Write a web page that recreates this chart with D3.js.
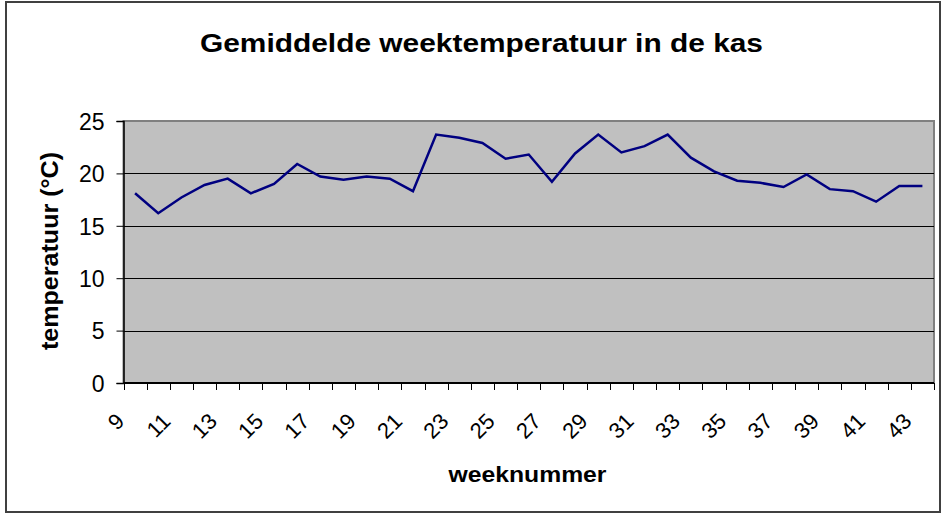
<!DOCTYPE html>
<html>
<head>
<meta charset="utf-8">
<script src="https://cdn.jsdelivr.net/npm/d3@7"></script>
<style>
  html, body { margin: 0; padding: 0; background: #fff; }
  svg { display: block; }
  text { font-family: "Liberation Sans", Arial, Helvetica, sans-serif; fill: #000; }
</style>
</head>
<body>
<svg id="chart" width="943" height="515"></svg>
<script>
// Weekly average greenhouse temperature, weeks 9 to 43
const weeks = d3.range(9, 44);
const temperatures = [
  18.1, 16.2, 17.7, 18.9, 19.5, 18.1, 19.0, 20.9, 19.7, 19.4,
  19.7, 19.5, 18.3, 23.7, 23.4, 22.9, 21.4, 21.8, 19.2, 21.9,
  23.7, 22.0, 22.6, 23.7, 21.5, 20.2, 19.3, 19.1, 18.7, 19.9,
  18.5, 18.3, 17.3, 18.8, 18.8
];
const yTicks = [0, 5, 10, 15, 20, 25];
const xTickLabels = weeks.filter(w => w % 2 === 1);

const titleText = "Gemiddelde weektemperatuur in de kas";
const xTitle = "weeknummer";
const yTitle = "temperatuur (°C)";

const svg = d3.select("#chart");

// chart area frame
svg.append("rect")
  .attr("x", 6).attr("y", 2).attr("width", 934).attr("height", 510)
  .attr("fill", "#fff").attr("stroke", "#404040").attr("stroke-width", 2);

const plot = { left: 123.5, right: 934, top: 121, bottom: 383 };

const x = d3.scaleBand().domain(weeks).range([plot.left, plot.right]).padding(0);
const y = d3.scaleLinear().domain([0, 25]).range([plot.bottom, plot.top]);

// plot background
svg.append("rect")
  .attr("x", plot.left).attr("y", plot.top)
  .attr("width", plot.right - plot.left).attr("height", plot.bottom - plot.top)
  .attr("fill", "#c0c0c0").attr("stroke", "#808080").attr("stroke-width", 2);

// horizontal gridlines
svg.append("g").selectAll("line")
  .data(yTicks.filter(v => v > 0 && v < 25))
  .join("line")
  .attr("x1", plot.left).attr("x2", plot.right)
  .attr("y1", d => Math.round(y(d)) + 0.5).attr("y2", d => Math.round(y(d)) + 0.5)
  .attr("stroke", "#000").attr("stroke-width", 1);

// y axis
const yAxis = svg.append("g")
  .attr("transform", `translate(${plot.left},0)`)
  .call(d3.axisLeft(y).tickValues(yTicks).tickSize(7).tickPadding(12).tickFormat(d3.format("d")));
yAxis.select(".domain").attr("stroke", "#000").attr("stroke-width", 1.5);
yAxis.selectAll(".tick line").attr("stroke", "#000");
yAxis.selectAll(".tick text")
  .attr("font-size", 23).attr("font-family", "Liberation Sans, Arial, sans-serif")
  .attr("fill", "#000").attr("dy", "0.36em");

// x axis: ticks at category boundaries
const boundaries = weeks.map(w => x(w)).concat([plot.right]);
const xAxisG = svg.append("g");
xAxisG.append("line")
  .attr("x1", plot.left).attr("x2", plot.right)
  .attr("y1", plot.bottom).attr("y2", plot.bottom)
  .attr("stroke", "#000").attr("stroke-width", 2);
xAxisG.selectAll("line.tick")
  .data(boundaries)
  .join("line")
  .attr("class", "tick")
  .attr("x1", d => Math.round(d) + 0.5).attr("x2", d => Math.round(d) + 0.5)
  .attr("y1", plot.bottom).attr("y2", plot.bottom + 7)
  .attr("stroke", "#000").attr("stroke-width", 1);

// rotated category labels (every second week)
const labelG = xAxisG.selectAll("g.xlabel")
  .data(xTickLabels)
  .join("g")
  .attr("class", "xlabel")
  .attr("transform", d => `translate(${x(d) + x.bandwidth() / 2 - 15},${plot.bottom + 34})`);
labelG.append("text")
  .attr("transform", "rotate(-45)")
  .attr("text-anchor", "end")
  .attr("dy", "0.36em")
  .attr("font-size", 22)
  .text(d => d);

// temperature line
const line = d3.line()
  .x((d, i) => x(weeks[i]) + x.bandwidth() / 2)
  .y(d => y(d));
svg.append("path")
  .datum(temperatures)
  .attr("d", line)
  .attr("fill", "none")
  .attr("stroke", "#000080")
  .attr("stroke-width", 2.5)
  .attr("stroke-linejoin", "miter");

// titles
svg.append("text")
  .attr("x", 481.5).attr("y", 51.5)
  .attr("text-anchor", "middle")
  .attr("font-size", 26).attr("font-weight", "bold")
  .attr("textLength", 563).attr("lengthAdjust", "spacingAndGlyphs")
  .text(titleText);

svg.append("text")
  .attr("x", 527.5).attr("y", 481.5)
  .attr("text-anchor", "middle")
  .attr("font-size", 22).attr("font-weight", "bold")
  .attr("textLength", 158).attr("lengthAdjust", "spacingAndGlyphs")
  .text(xTitle);

svg.append("text")
  .attr("transform", "translate(58,251) rotate(-90)")
  .attr("text-anchor", "middle")
  .attr("font-size", 23).attr("font-weight", "bold")
  .attr("textLength", 198).attr("lengthAdjust", "spacingAndGlyphs")
  .text(yTitle);
</script>
</body>
</html>
